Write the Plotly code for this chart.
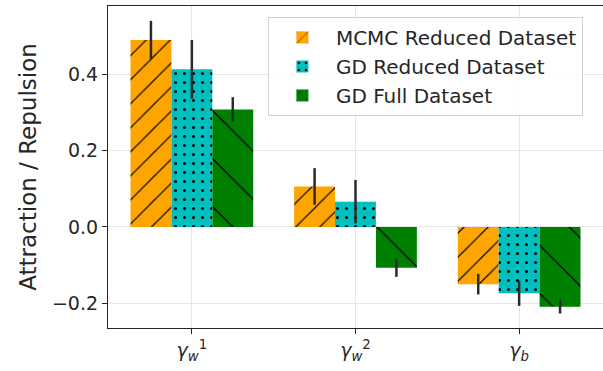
import plotly.graph_objects as go

categories = ["γw1", "γw2", "γb"]
tick_labels = ["<i>γ</i><sub><i>w</i></sub><sup>1</sup>",
               "<i>γ</i><sub><i>w</i></sub><sup>2</sup>",
               "<i>γ</i><sub><i>b</i></sub>"]

series_names = ["MCMC Reduced Dataset", "GD Reduced Dataset", "GD Full Dataset"]
mcmc_reduced = [0.490, 0.106, -0.150]
mcmc_reduced_err = [0.050, 0.048, 0.027]
gd_reduced = [0.413, 0.066, -0.174]
gd_reduced_err = [0.077, 0.057, 0.033]
gd_full = [0.308, -0.107, -0.209]
gd_full_err = [0.032, 0.024, 0.018]

colors = ["#FFA500", "#00BFBF", "#008000"]
patterns = [dict(shape="/", size=17, solidity=0.07),
            dict(shape=".", size=9, solidity=0.09),
            dict(shape="\\", size=34, solidity=0.04)]

fig = go.Figure()
for name, vals, errs, col, pat in zip(series_names,
                                      [mcmc_reduced, gd_reduced, gd_full],
                                      [mcmc_reduced_err, gd_reduced_err, gd_full_err],
                                      colors, patterns):
    fig.add_trace(go.Bar(
        x=categories, y=vals, name=name,
        marker=dict(color=col, line=dict(width=0),
                    pattern=dict(fgcolor="black", fgopacity=1, **pat)),
        error_y=dict(type="data", array=errs, visible=True,
                     color="#2a2a2a", thickness=2.5, width=0),
    ))

fig.update_layout(
    width=603, height=371,
    margin=dict(l=108, r=0, t=6, b=43),
    paper_bgcolor="white", plot_bgcolor="white",
    font=dict(family="DejaVu Sans", color="#262626"),
    barmode="group", bargap=0.25, bargroupgap=0,
    showlegend=True,
    legend=dict(x=0.323, y=0.966, xanchor="left", yanchor="top",
                bgcolor="rgba(255,255,255,0.85)", bordercolor="#d0d0d0",
                borderwidth=1, font=dict(size=20, color="#262626"),
                itemwidth=57, tracegroupgap=0),
)
fig.update_xaxes(
    range=[-0.5125, 2.5125], tickmode="array", tickvals=categories, ticktext=tick_labels,
    tickfont=dict(size=19), showline=True, linecolor="#262626", linewidth=1.2,
    mirror=True, ticks="outside", ticklen=5, tickcolor="#262626",
    showgrid=True, gridcolor="#e6e6e6", gridwidth=1, automargin=False,
)
fig.update_yaxes(
    range=[-0.265, 0.579], tickvals=[-0.2, 0.0, 0.2, 0.4], tickformat=".1f",
    tickfont=dict(size=19), showline=True, linecolor="#262626", linewidth=1.2,
    mirror=True, ticks="outside", ticklen=5, tickcolor="#262626",
    showgrid=True, gridcolor="#e6e6e6", gridwidth=1, zeroline=False, automargin=False,
    title=dict(text="Attraction / Repulsion", font=dict(size=23), standoff=8),
)
fig.write_html("out.html", config={"displayModeBar": False},
               post_script="document.body.style.margin='0';document.body.style.overflow='hidden';")
